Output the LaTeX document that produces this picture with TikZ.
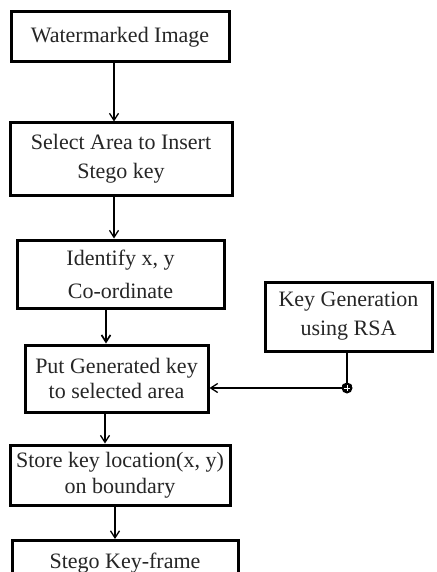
\documentclass[tikz,border=0pt]{standalone}
\usepackage{fontspec}
\setmainfont{Liberation Serif}
\usetikzlibrary{arrows.meta}
\begin{document}
\begin{tikzpicture}[x=1pt,y=-1pt,
  stepbox/.style={draw=black,line width=3pt,fill=white,inner sep=0pt,
    align=center,font=\fontsize{22}{#1}\selectfont,text=black!85},
  stepbox/.default=28,
  arr/.style={line width=1.7pt,-{Straight Barb[length=7pt,width=9pt,line width=1.3pt]}},
  thickarr/.style={line width=2.8pt,-{Straight Barb[length=7pt,width=9pt,line width=1.7pt]}}]
\useasboundingbox (0,0) rectangle (436,572);

% process boxes
\node[stepbox, minimum width=218pt, minimum height=50pt] (wm) at (120,37) {Watermarked Image};
\node[stepbox=29, minimum width=222pt, minimum height=72pt] (sel) at (121,159) {Select Area to Insert\\Stego key};
\node[stepbox=33, minimum width=207pt, minimum height=68pt] (idf) at (120.5,274) {Identify x, y\\Co-ordinate};
\node[stepbox=25, minimum width=183pt, minimum height=67pt] (put) at (116.5,378.5) {Put Generated key\\to selected area};
\node[stepbox=29, minimum width=167pt, minimum height=69pt] (rsa) at (348.5,316.5) {Key Generation\\using RSA};
\node[stepbox=26, minimum width=220pt, minimum height=60pt] (store) at (120,475) {Store key location(x, y)\\on boundary};
\node[stepbox, minimum width=226pt, minimum height=52pt, anchor=north] (out) at (125,539) {\raisebox{12pt}{Stego Key-frame}};

% flow arrows
\draw[arr] (wm.south -| 114,0) -- (sel.north -| 114,0);
\draw[arr] (sel.south -| 114,0) -- (idf.north -| 114,0);
\draw[thickarr] (idf.south -| 106,0) -- (put.north -| 106,0);
\draw[arr] (put.south -| 105,0) -- (store.north -| 105,0);
\draw[arr] (store.south -| 115,0) -- (out.north -| 115,0);

% key injection branch
\coordinate (j) at (347,388);
\draw[arr] (rsa.south -| j) -- ([yshift=-5pt]j);
\draw[arr] (j) -- (put.east |- j);
\fill[black] (j) circle (5.5pt);
\draw[white,line width=0.5pt] ([xshift=-3pt]j) -- ([xshift=3pt]j) ([yshift=-3pt]j) -- ([yshift=3pt]j);
\end{tikzpicture}
\end{document}
